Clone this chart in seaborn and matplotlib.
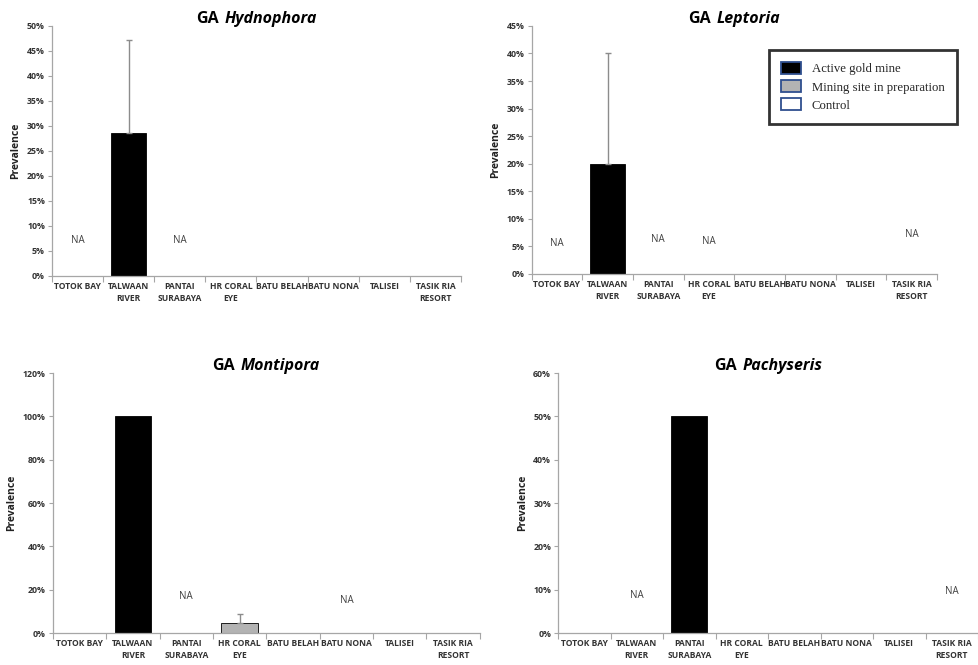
import matplotlib
matplotlib.use("Agg")
import matplotlib.pyplot as plt
import matplotlib.ticker as mticker
from matplotlib.patches import Patch
from matplotlib.offsetbox import TextArea, HPacker, AnchoredOffsetbox
import pandas as pd
import seaborn as sns

sites = ["TOTOK BAY", "TALWAAN\nRIVER", "PANTAI\nSURABAYA", "HR CORAL\nEYE",
         "BATU BELAH", "BATU NONA", "TALISEI", "TASIK RIA\nRESORT"]
site_type = ["Active gold mine", "Active gold mine", "Active gold mine",
             "Mining site in preparation", "Mining site in preparation",
             "Control", "Control", "Control"]
type_colors = {"Active gold mine": "black",
               "Mining site in preparation": "#b3b3b3",
               "Control": "white"}

hydnophora = [0, 0.285, 0, 0, 0, 0, 0, 0]
hydnophora_err = [0, 0.187, 0, 0, 0, 0, 0, 0]
hydnophora_na = {"TOTOK BAY": 0.07, "PANTAI\nSURABAYA": 0.07}

leptoria = [0, 0.20, 0, 0, 0, 0, 0, 0]
leptoria_err = [0, 0.20, 0, 0, 0, 0, 0, 0]
leptoria_na = {"TOTOK BAY": 0.055, "PANTAI\nSURABAYA": 0.062,
               "HR CORAL\nEYE": 0.059, "TASIK RIA\nRESORT": 0.072}

montipora = [0, 1.0, 0, 0.045, 0, 0, 0, 0]
montipora_err = [0, 0, 0, 0.045, 0, 0, 0, 0]
montipora_na = {"PANTAI\nSURABAYA": 0.17, "BATU NONA": 0.15}

pachyseris = [0, 0, 0.50, 0, 0, 0, 0, 0]
pachyseris_err = [0, 0, 0, 0, 0, 0, 0, 0]
pachyseris_na = {"TALWAAN\nRIVER": 0.087, "TASIK RIA\nRESORT": 0.097}

panels = [
    ("Hydnophora", hydnophora, hydnophora_err, hydnophora_na, 0.50, 0.05, [0.053, 0.585, 0.418, 0.376]),
    ("Leptoria", leptoria, leptoria_err, leptoria_na, 0.45, 0.05, [0.543, 0.588, 0.414, 0.373]),
    ("Montipora", montipora, montipora_err, montipora_na, 1.20, 0.20, [0.054, 0.048, 0.436, 0.391]),
    ("Pachyseris", pachyseris, pachyseris_err, pachyseris_na, 0.60, 0.10, [0.570, 0.048, 0.429, 0.391]),
]

sns.set_theme(style="white")
plt.rcParams["font.family"] = ["Open Sans", "DejaVu Sans"]

fig = plt.figure(figsize=(9.79, 6.65), dpi=100)
for genus, vals, errs, na, ymax, step, pos in panels:
    ax = fig.add_axes(pos)
    df = pd.DataFrame({"site": sites, "value": vals, "type": site_type})
    sns.barplot(data=df, x="site", y="value", hue="type", palette=type_colors,
                dodge=False, width=0.68, edgecolor="black", linewidth=0.6,
                legend=False, ax=ax)
    for i, (v, e) in enumerate(zip(vals, errs)):
        if e > 0:
            ax.errorbar(i, v, yerr=[[0], [e]], fmt="none", ecolor="#8c8c8c",
                        elinewidth=1, capsize=2, capthick=1)
    for s, y in na.items():
        ax.text(sites.index(s), y, "NA", ha="center", va="center",
                fontsize=7, color="#404040")
    ax.set_xlim(-0.5, len(sites) - 0.5)
    ax.set_ylim(0, ymax)
    ax.yaxis.set_major_locator(mticker.MultipleLocator(step))
    ax.yaxis.set_major_formatter(mticker.PercentFormatter(1.0, decimals=0))
    ax.set_xlabel("")
    ax.set_ylabel("Prevalence", fontsize=7.5, fontweight="bold", color="#222222")
    ax.set_xticks(range(len(sites)))
    ax.set_xticklabels(sites, fontsize=6.1, fontweight="bold", color="#333333",
                       linespacing=1.45)
    ax.set_xticks([i + 0.5 for i in range(-1, len(sites))], minor=True)
    ax.tick_params(axis="x", which="major", length=0, pad=4)
    ax.tick_params(axis="x", which="minor", length=4, color="#a6a6a6", width=0.8,
                   direction="out", bottom=True)
    ax.tick_params(axis="y", length=3, color="#a6a6a6", width=0.8, direction="out",
                   left=True, labelsize=6.3, labelcolor="#333333", pad=2)
    for lab in ax.get_yticklabels():
        lab.set_fontweight("bold")
    sns.despine(ax=ax)
    for sp in ("left", "bottom"):
        ax.spines[sp].set_color("#a6a6a6")
        ax.spines[sp].set_linewidth(0.9)

    title = HPacker(children=[
        TextArea("GA", textprops=dict(fontsize=11.5, fontweight="bold", color="black")),
        TextArea(genus, textprops=dict(fontsize=11.5, fontweight="bold", style="italic", color="black")),
    ], sep=4, align="baseline")
    anchored = AnchoredOffsetbox(loc="lower center", child=title, pad=0, borderpad=0,
                                 frameon=False, bbox_to_anchor=(0.5, 0.995),
                                 bbox_transform=ax.transAxes)
    ax.add_artist(anchored)

handles = [Patch(facecolor=c, edgecolor="#2f4f8f", linewidth=1.3, label=t)
           for t, c in type_colors.items()]
leg = fig.legend(handles=handles, loc="upper left", bbox_to_anchor=(769 / 979, 1 - 50 / 665),
                 prop={"family": "Liberation Serif", "size": 9.2}, frameon=True,
                 fancybox=False, borderpad=0.95, handlelength=1.55, handleheight=1.05,
                 handletextpad=0.85, labelspacing=0.38, borderaxespad=0)
leg.get_frame().set_edgecolor("black")
leg.get_frame().set_linewidth(2)

fig.savefig("out.png", dpi=100)
